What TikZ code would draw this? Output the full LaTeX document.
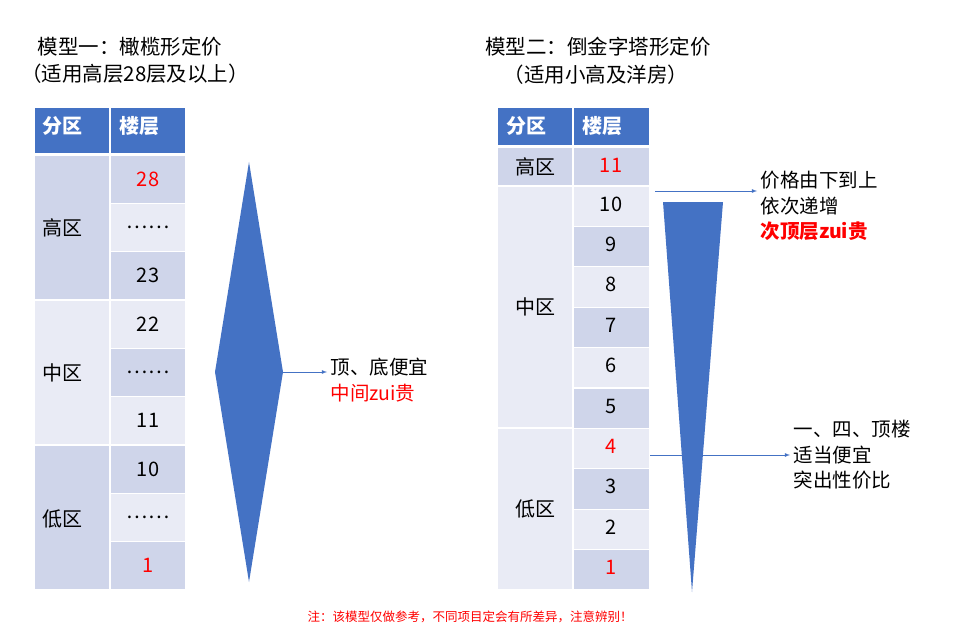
\documentclass[tikz,border=0pt]{standalone}
\usepackage{fontspec}
\setmainfont{Noto Sans CJK SC}
\begin{document}
\begin{tikzpicture}[x=1pt,y=-1pt,
  dk/.style={fill=cdk,draw=white,line width=1.2pt},
  lt/.style={fill=clt,draw=white,line width=1.2pt},
  hd/.style={fill=chd,draw=white,line width=1.2pt},
  txt/.style={font=\fontsize{20}{22}\selectfont},
  htxt/.style={font=\fontsize{20}{22}\selectfont\bfseries,text=white},
  arr/.style={draw=chd,line width=0.8pt,-latex},
  lab/.style={font=\fontsize{19.5}{25.5}\selectfont,align=left,anchor=west},
  ttl/.style={font=\fontsize{20.5}{22}\selectfont}]
\definecolor{cdk}{HTML}{CFD5EA}
\definecolor{clt}{HTML}{E9EBF5}
\definecolor{chd}{HTML}{4472C4}
\definecolor{cred}{HTML}{FF0000}
\useasboundingbox (0,0) rectangle (955,639);
% titles
\node[ttl] (t1) at (130,47) {模型一：橄榄形定价};
\node[ttl] (t2) at (135,74) {（适用高层28层及以上）};
\node[ttl] (t3) at (598,47) {模型二：倒金字塔形定价};
\node[ttl] (t4) at (596,75) {（适用小高及洋房）};
% left table
\draw[hd] (34,107) rectangle (110,154); \draw[hd] (110,107) rectangle (186,154);
\node[htxt,anchor=west] (lh1) at (39,126) {分区};
\node[htxt,anchor=west] (lh2) at (116,126) {楼层};
\draw[dk] (34,155) rectangle (110,300); \node[txt] (lz1) at (62,228) {高区};
\draw[lt] (34,300) rectangle (110,445); \node[txt] (lz2) at (62,373) {中区};
\draw[dk] (34,445) rectangle (110,590); \node[txt] (lz3) at (62,519) {低区};
\foreach \i/\t/\s/\c in {0/28/dk/cred,1/{……}/lt/black,2/23/dk/black,3/22/lt/black,4/{……}/dk/black,5/11/lt/black,6/10/dk/black,7/{……}/lt/black,8/1/dk/cred}{
  \draw[\s] (110,155+48.33*\i) rectangle (186,155+48.33*\i+48.33);
  \node[txt,text=\c] (lf\i) at (148,179+48.33*\i) {\t};
}
% diamond
\fill[chd] (249,162) -- (283,372) -- (249,582) -- (215,372) -- cycle;
\coordinate (dr) at (283,372);
\node[lab] (l1) at (327,380) {顶、底便宜\\\textcolor{cred}{中间zui贵}};
\draw[arr] (dr) -- (l1.west|-dr);
% right table
\draw[hd] (497,107) rectangle (573,146); \draw[hd] (573,107) rectangle (650,146);
\node[htxt,anchor=west] (rh1) at (503,126) {分区};
\node[htxt,anchor=west] (rh2) at (579,126) {楼层};
\draw[dk] (497,147) rectangle (573,186); \node[txt] (rz1) at (535,167) {高区};
\draw[lt] (497,186) rectangle (573,428); \node[txt] (rz2) at (535,307) {中区};
\draw[lt] (497,428) rectangle (573,590); \node[txt] (rz3) at (535,509) {低区};
\draw[dk] (573,147) rectangle (650,186); \node[txt,text=cred] (rf11) at (611,165) {11};
\foreach \i/\t/\s/\c in {0/10/lt/black,1/9/dk/black,2/8/lt/black,3/7/dk/black,4/6/lt/black,5/5/dk/black,6/4/lt/cred,7/3/dk/black,8/2/lt/black,9/1/dk/cred}{
  \draw[\s] (573,186+40.4*\i) rectangle (650,186+40.4*\i+40.4);
  \node[txt,text=\c] (rf\i) at (611,204+40.4*\i) {\t};
}
\coordinate (a1s) at (655,191);
\node[lab] (l2) at (757,206) {价格由下到上\\依次递增\\\textcolor{cred}{\bfseries 次顶层zui贵}};
\draw[arr] (a1s) -- (l2.west|-a1s);
\coordinate (a2s) at (650,455);
\node[lab] (l3) at (790,455) {一、四、顶楼\\适当便宜\\突出性价比};
\draw[arr] (a2s) -- (l3.west|-a2s);
\fill[chd] (663,202) -- (723,202) -- (692,592) -- cycle;
% footer
\node[font=\fontsize{12.5}{14}\selectfont,text=cred] (ft) at (470,617) {注：该模型仅做参考，不同项目定会有所差异，注意辨别！};
\end{tikzpicture}
\end{document}
